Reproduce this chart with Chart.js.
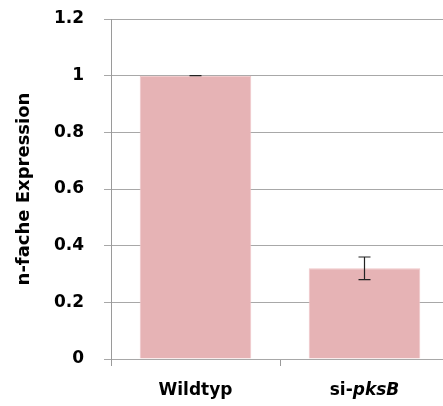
<!DOCTYPE html>
<html>
<head>
<meta charset="utf-8">
<script src="https://cdn.jsdelivr.net/npm/chart.js@4/dist/chart.umd.min.js"></script>
<style>
  html, body { margin: 0; padding: 0; background: #fff; overflow: hidden; }
  #wrap { width: 452px; height: 406px; }
</style>
</head>
<body>
<div id="wrap"><canvas id="c" width="452" height="406"></canvas></div>
<script>
// Relative expression (n-fold) per strain, with standard deviation
const categories = ['Wildtyp', 'si-pksB'];
const labelParts = [
  [{ text: 'Wildtyp', italic: false }],
  [{ text: 'si-', italic: false }, { text: 'pksB', italic: true }]
];
const expression = [1.0, 0.32];
const errors = [0.0, 0.04];
const yTicks = [0, 0.2, 0.4, 0.6, 0.8, 1, 1.2];

const FONT = '"DejaVu Sans", sans-serif';

// Draws error bars and the mixed-style category labels
const extrasPlugin = {
  id: 'extras',
  afterDatasetsDraw(chart) {
    const ctx = chart.ctx;
    const y = chart.scales.y;
    const meta = chart.getDatasetMeta(0);
    ctx.save();
    ctx.strokeStyle = '#222';
    ctx.lineWidth = 1.2;
    expression.forEach((v, i) => {
      const cx = meta.data[i].x;
      const top = y.getPixelForValue(v + errors[i]);
      const bot = y.getPixelForValue(v - errors[i]);
      ctx.beginPath();
      ctx.moveTo(cx, top); ctx.lineTo(cx, bot);
      ctx.moveTo(cx - 6, top); ctx.lineTo(cx + 6, top);
      ctx.moveTo(cx - 6, bot); ctx.lineTo(cx + 6, bot);
      ctx.stroke();
    });
    ctx.restore();
  },
  afterDraw(chart) {
    const ctx = chart.ctx;
    const meta = chart.getDatasetMeta(0);
    const baseY = chart.scales.y.getPixelForValue(0) + 36;
    ctx.save();
    ctx.fillStyle = '#000';
    ctx.textBaseline = 'alphabetic';
    labelParts.forEach((parts, i) => {
      const fonts = parts.map(p => (p.italic ? 'italic ' : '') + 'bold 17px ' + FONT);
      let total = 0;
      parts.forEach((p, k) => { ctx.font = fonts[k]; total += ctx.measureText(p.text).width; });
      let px = meta.data[i].x - total / 2;
      parts.forEach((p, k) => {
        ctx.font = fonts[k];
        ctx.textAlign = 'left';
        ctx.fillText(p.text, px, baseY);
        px += ctx.measureText(p.text).width;
      });
    });
    ctx.restore();
  }
};

new Chart(document.getElementById('c'), {
  type: 'bar',
  data: {
    labels: categories,
    datasets: [{
      data: expression,
      backgroundColor: '#e6b3b5',
      borderColor: '#efc6c8',
      borderWidth: 1,
      barPercentage: 0.66,
      categoryPercentage: 1.0
    }]
  },
  options: {
    responsive: false,
    animation: false,
    devicePixelRatio: 1,
    layout: { padding: { top: 19, right: 3, left: 14, bottom: 0 } },
    plugins: { legend: { display: false }, tooltip: { enabled: false } },
    scales: {
      x: {
        grid: { display: true, drawOnChartArea: false, drawTicks: true, tickLength: 7, offset: true, color: '#9a9a9a' },
        border: { display: false },
        ticks: { display: false },
        afterFit(s) { s.height = 406 - 359; s.paddingLeft = 0; s.paddingRight = 0; }
      },
      y: {
        min: 0, max: 1.2,
        afterBuildTicks(s) { s.ticks = yTicks.map(v => ({ value: v })); },
        grid: { color: '#a8a8a8', lineWidth: 1, tickLength: 7, drawTicks: true },
        border: { display: true, color: '#9a9a9a' },
        ticks: {
          color: '#000',
          padding: 20,
          font: { family: FONT, size: 17, weight: 'bold' },
          callback: v => String(v)
        },
        title: {
          display: true,
          text: 'n-fache Expression',
          color: '#000',
          font: { family: FONT, size: 18, weight: 'bold' },
          padding: { top: 0, bottom: 8 }
        },
        afterFit(s) { s.width = 111 - 14; s.paddingTop = 0; s.paddingBottom = 0; }
      }
    }
  },
  plugins: [extrasPlugin]
});
</script>
</body>
</html>
